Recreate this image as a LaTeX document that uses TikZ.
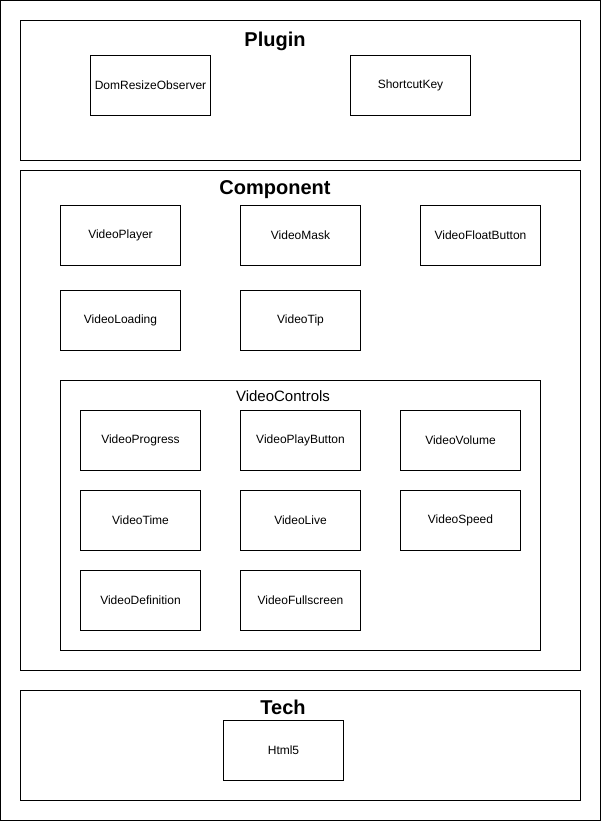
\documentclass[tikz,border=0pt]{standalone}
\usepackage{fontspec}
\setmainfont{Liberation Sans}
\usetikzlibrary{positioning}

\begin{document}
\begin{tikzpicture}[x=1pt, y=-1pt, line width=1pt,
  comp/.style={draw, minimum width=120pt, minimum height=60pt, inner sep=0pt, outer sep=0pt, font=\fontsize{12}{14}\selectfont},
  area/.style={draw, anchor=north west, minimum width=560pt, inner sep=0pt, outer sep=0pt},
  areatitle/.style={font=\fontsize{20}{24}\selectfont\bfseries, inner sep=0pt}]
% Rahmen
\useasboundingbox (0,0) rectangle (601,821);
\draw (0.5,0.5) rectangle (600.5,820.5);
% Plugin
\node[area, minimum height=140pt] (plugin) at (20.5,20.5) {};
\node[areatitle] (plugintitle) at (275,41) {Plugin};
\node[comp] (domresize) at (150.5,85.5) {DomResizeObserver};
\node[comp] (shortcut) at (410.5,85.5) {ShortcutKey};
% Component
\node[area, minimum height=500pt] (component) at (20.5,170.5) {};
\node[areatitle] (componenttitle) at (275,190) {Component};
\node[comp] (player) at (120.5,235.5) {VideoPlayer};
\node[comp, right=60pt of player] (mask) {VideoMask};
\node[comp, right=60pt of mask] (floatbtn) {VideoFloatButton};
\node[comp, below=25pt of player] (loading) {VideoLoading};
\node[comp, right=60pt of loading] (tip) {VideoTip};
% VideoControls
\node[draw, anchor=north west, minimum width=480pt, minimum height=270pt, inner sep=0pt, outer sep=0pt] (controls) at (60.5,380.5) {};
\node[font=\fontsize{15}{18}\selectfont, inner sep=0pt] (controlstitle) at (283,396) {VideoControls};
\node[comp] (progress) at (140.5,440.5) {VideoProgress};
\node[comp, right=40pt of progress] (playbtn) {VideoPlayButton};
\node[comp, right=40pt of playbtn] (volume) {VideoVolume};
\node[comp, below=20pt of progress] (time) {VideoTime};
\node[comp, right=40pt of time] (live) {VideoLive};
\node[comp, right=40pt of live] (speed) {VideoSpeed};
\node[comp, below=20pt of time] (definition) {VideoDefinition};
\node[comp, right=40pt of definition] (fullscreen) {VideoFullscreen};
% Tech
\node[area, minimum height=110pt] (tech) at (20.5,690.5) {};
\node[areatitle] (techtitle) at (283,707) {Tech};
\node[comp] (html) at (283.5,750.5) {Html5};
\end{tikzpicture}
\end{document}
